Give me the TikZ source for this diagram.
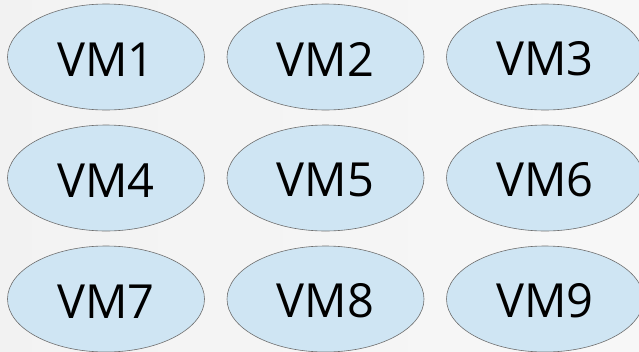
\documentclass[tikz,border=0pt]{standalone}
\usepackage{fontspec}
\setmainfont{Open Sans}
\usetikzlibrary{shapes.geometric}

\definecolor{vmfill}{HTML}{CFE5F3}
\definecolor{vmline}{HTML}{6E6E6E}

\begin{document}
\begin{tikzpicture}[%
      x=1pt, y=-1pt,
      every node/.style={font={\fontsize{47}{47}\selectfont}},
      vm/.style={ellipse, draw=vmline, line width=0.6pt, fill=vmfill,
                 minimum width=197pt, minimum height=106pt, inner sep=0pt,
                 text height=38pt}
    ]
    % page and soft background
    \useasboundingbox (0,0) rectangle (639,351);
    \shade[left color=white!95!black, right color=white!97!black]
      (0,0) rectangle (639,351);
    % three rows of virtual machines
    \foreach \row in {0,1,2} {
      \foreach \col in {0,1,2} {
        \pgfmathtruncatemacro{\n}{3*\row+\col+1}
        \node [vm] (vm\n) at (106+219.5*\col, 57+121*\row) {VM\n};
      }
    }
\end{tikzpicture}
\end{document}
